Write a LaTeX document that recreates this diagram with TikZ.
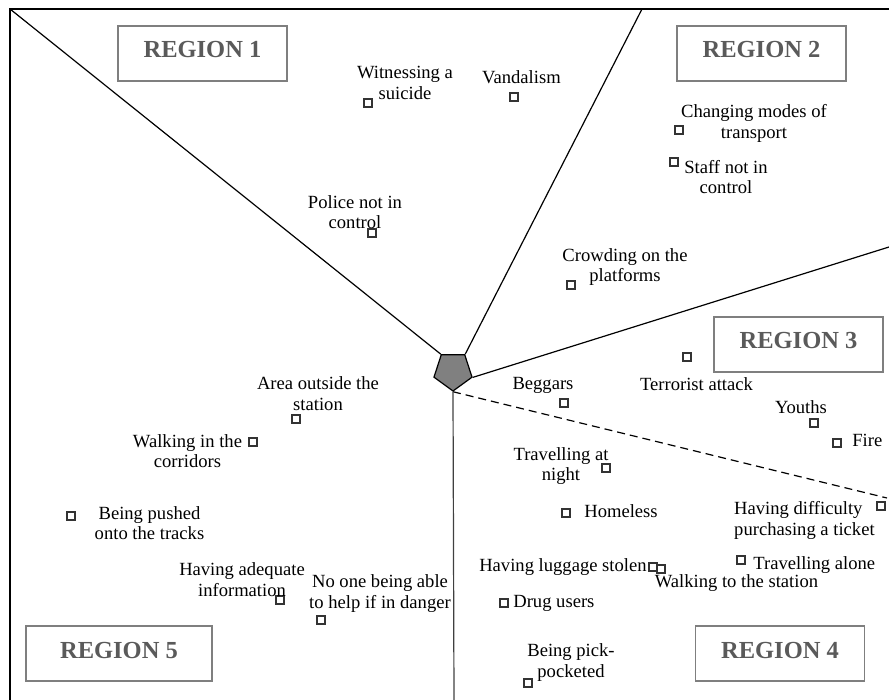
\documentclass[tikz,border=0pt]{standalone}
\usepackage{fontspec}
\setmainfont{Liberation Serif}
\usetikzlibrary{shapes.geometric,positioning}
\definecolor{rgray}{HTML}{5A5A5A}
\definecolor{bgray}{HTML}{7F7F7F}
\definecolor{mgray}{HTML}{333333}
\definecolor{hgray}{HTML}{808080}
\tikzset{
 regionbox/.style={draw=bgray,line width=1.5pt,minimum width=169pt,minimum height=55pt,inner sep=0pt,
   text height=17pt,text depth=8pt,font=\fontsize{24.5}{28}\selectfont\bfseries,text=rgray},
 hazard/.style={draw=mgray,line width=2.3pt,minimum size=8pt,inner sep=0pt,fill=white},
 lbl/.style={font=\fontsize{18.6}{20.5}\selectfont,align=center,inner sep=0pt},
 divider/.style={line width=1.2pt,draw=black},
 hub/.style={regular polygon,regular polygon sides=5,shape border rotate=180,minimum size=40pt,
   inner sep=0pt,draw=black,line width=1.2pt,fill=hgray}
}
\begin{document}
\begin{tikzpicture}[x=1pt,y=-1pt]
 \useasboundingbox (0,0) rectangle (889,700);
 % frame
 \draw[line width=2.2pt] (10,700) -- (10,9) -- (889,9);
 % centre and region borders
 \node[hub] (hub) at (453,371) {};
 \coordinate (c-tl) at (10,9);
 \coordinate (c-top) at (642,9);
 \coordinate (c-right) at (889,247);
 \coordinate (c-dash) at (887,498);
 \coordinate (c-bottom) at (454,700);
 \draw[divider] (hub.corner 4) -- (c-tl);
 \draw[divider] (hub.corner 3) -- (c-top);
 \draw[divider] (hub.corner 2) -- (c-right);
 \draw[divider,dash pattern=on 8pt off 5pt] (hub.corner 1) -- (c-dash);
 \draw[divider,draw=black!75] (hub.corner 1) -- (c-bottom);
 % regions
 \node[regionbox] (reg1) at (202.5,53.5) {REGION 1};
 \node[regionbox] (reg2) at (761.5,53.5) {REGION 2};
 \node[regionbox] (reg3) at (798.5,344.5) {REGION 3};
 \node[regionbox] (reg4) at (780,653.5) {REGION 4};
 \node[regionbox,minimum width=186pt] (reg5) at (119,653.5) {REGION 5};
 % markers
 \node[hazard] (m-suicide) at (368,103) {};
 \node[hazard] (m-vandal) at (514,97) {};
 \node[hazard] (m-modes) at (679,130) {};
 \node[hazard] (m-staff) at (674,162) {};
 \node[hazard] (m-police) at (372,233) {};
 \node[hazard] (m-crowd) at (571,285) {};
 \node[hazard] (m-terror) at (687,357) {};
 \node[hazard] (m-beggar) at (564,403) {};
 \node[hazard] (m-area) at (296,419) {};
 \node[hazard] (m-corridor) at (253,442) {};
 \node[hazard] (m-youth) at (814,423) {};
 \node[hazard] (m-fire) at (837,443) {};
 \node[hazard] (m-night) at (606,468) {};
 \node[hazard] (m-pushed) at (71,516) {};
 \node[hazard] (m-homeless) at (566,513) {};
 \node[hazard] (m-ticket) at (881,506) {};
 \node[hazard] (m-info) at (280,600) {};
 \node[hazard] (m-help) at (321,620) {};
 \node[hazard] (m-luggage) at (653,567) {};
 \node[hazard] (m-walkstat) at (661,569) {};
 \node[hazard] (m-alone) at (741,560) {};
 \node[hazard] (m-drug) at (504,603) {};
 \node[hazard] (m-pick) at (528,683) {};
 % labels
 \node[lbl] (l-suicide) at (405,83) {Witnessing a\\suicide};
 \node[lbl] (l-vandal) at (521.5,77) {Vandalism};
 \node[lbl] (l-modes) at (754,123.5) {Changing modes of\\transport};
 \node[lbl] (l-staff) at (726,177) {Staff not in\\control};
 \node[lbl] (l-police) at (355,212) {Police not in\\control};
 \node[lbl] (l-crowd) at (625,267) {Crowding on the\\platforms};
 \node[lbl] (l-terror) at (696.5,384) {Terrorist attack};
 \node[lbl] (l-beggar) at (543,385) {Beggars};
 \node[lbl] (l-area) at (318,393.5) {Area outside the\\station};
 \node[lbl] (l-corridor) at (187.5,451) {Walking in the\\corridors};
 \node[lbl] (l-youth) at (801,407) {Youths};
 \node[lbl,right=10pt of m-fire,yshift=3pt] (l-fire) {Fire};
 \node[lbl] (l-night) at (561,466) {Travelling at\\night};
 \node[lbl] (l-pushed) at (149.5,523) {Being pushed\\onto the tracks};
 \node[lbl,right=13pt of m-homeless,yshift=2pt] (l-homeless) {Homeless};
 \node[lbl,align=left,anchor=west] (l-ticket) at (734,520.5) {Having difficulty\\purchasing a ticket};
 \node[lbl] (l-info) at (242,579.5) {Having adequate\\information};
 \node[lbl] (l-help) at (380,593.5) {No one being able\\to help if in danger};
 \node[lbl,left=1pt of m-luggage] (l-luggage) {Having luggage stolen};
 \node[lbl] (l-walkstat) at (736.5,583) {Walking to the station};
 \node[lbl,right=7pt of m-alone,yshift=-5pt] (l-alone) {Travelling alone};
 \node[lbl,right=4pt of m-drug] (l-drug) {Drug users};
 \node[lbl] (l-pick) at (571,662.5) {Being pick-\\pocketed};
\end{tikzpicture}
\end{document}
